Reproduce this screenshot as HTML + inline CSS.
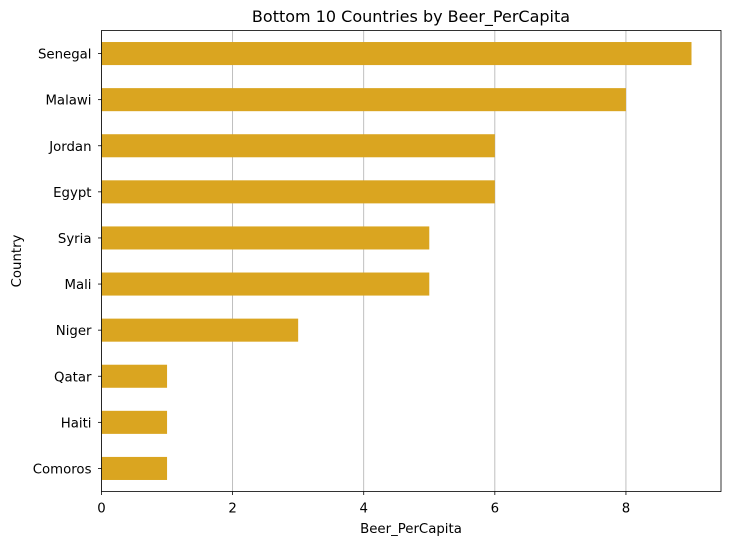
<!DOCTYPE html>
<html><head><meta charset="utf-8"><style>
body{margin:0;background:#fff;}
text{font-family:"DejaVu Sans","Liberation Sans",sans-serif;fill:#000;}
</style></head><body>
<svg id="chart" width="730" height="545" xmlns="http://www.w3.org/2000/svg">
<text x="411" y="22" font-size="16" text-anchor="middle">Bottom 10 Countries by Beer_PerCapita</text>
<text x="411" y="533" font-size="13.3" text-anchor="middle">Beer_PerCapita</text>
<text x="0" y="0" font-size="13.3" text-anchor="middle" transform="translate(21,261) rotate(-90)">Country</text>
<g id="grid"></g><g id="bars"></g><g id="axes"></g>
</svg>
<script>
const countries = ["Senegal","Malawi","Jordan","Egypt","Syria","Mali","Niger","Qatar","Haiti","Comoros"];
const values = [9,8,6,6,5,5,3,1,1,1];
const xTicks = [0,2,4,6,8];
const NS="http://www.w3.org/2000/svg";
const L=101.5,R=721,T=30.5,B=491.5,xMax=9.45;
const x=v=>L+v/xMax*(R-L);
const step=(B-T)/countries.length;
const y=i=>T+step*(i+0.5);
function mk(tag,attrs,parent){const e=document.createElementNS(NS,tag);for(const k in attrs)e.setAttribute(k,attrs[k]);document.getElementById(parent).appendChild(e);return e;}
xTicks.forEach(t=>{
  const g=mk('line',{x1:x(t),x2:x(t),y1:T,y2:B,stroke:'#b0b0b0','stroke-width':0.8},'grid');
  
  
  const tk=mk('line',{x1:x(t),x2:x(t),y1:B,y2:B+3.5,stroke:'#000','stroke-width':0.8},'axes');
  
  
  const lb=mk('text',{x:x(t),y:B+21,'font-size':13.3,'text-anchor':'middle'},'axes');lb.textContent=t;
  
  
});
countries.forEach((c,i)=>{
  const r=mk('rect',{x:L,y:y(i)-step/4,width:x(values[i])-L,height:step/2,fill:'#daa520'},'bars');
  
  
  const tk=mk('line',{x1:L-3.5,x2:L,y1:y(i),y2:y(i),stroke:'#000','stroke-width':0.8},'axes');
  
  
  const lb=mk('text',{x:L-10,y:y(i)+5,'font-size':13.3,'text-anchor':'end'},'axes');lb.textContent=c;
  
  
});
const fr=mk('rect',{x:L,y:T,width:R-L,height:B-T,fill:'none',stroke:'#000','stroke-width':0.8},'axes');


</script>
</body></html>
